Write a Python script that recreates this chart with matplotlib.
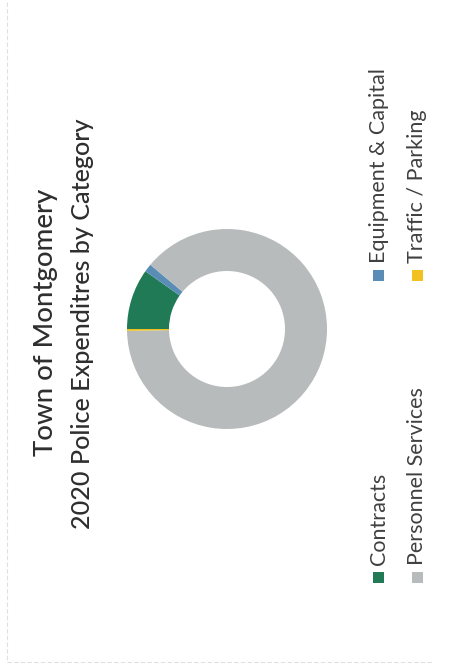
import matplotlib
matplotlib.use("Agg")
import matplotlib.pyplot as plt
from matplotlib.patches import Rectangle
from matplotlib.lines import Line2D

# Chart content
title_lines = ["Town of Montgomery", "2020 Police Expenditres by Category"]
categories = ["Contracts", "Equipment & Capital", "Personnel Services", "Traffic / Parking"]
shares = [9.8, 1.3, 88.6, 0.3]
colors = ["#217a56", "#5a8db6", "#b7bbbc", "#f1c21f"]

W, H = 451, 670
FONT = "Lato"

fig = plt.figure(figsize=(W / 100, H / 100), dpi=100)
fig.patch.set_facecolor("white")
renderer = fig.canvas.get_renderer()


def fx(x):
    return x / W


def fy(y):
    return 1 - y / H


def fitted_size(text, target_px, base=20, weight="normal"):
    t = fig.text(0, 0, text, fontsize=base, family=FONT, weight=weight)
    w = t.get_window_extent(renderer).width
    t.remove()
    return base * target_px / w


# Donut (page is turned a quarter turn, so the chart reads bottom-to-top)
cx, cy, r = 227, 329, 100
ax = fig.add_axes([fx(cx - r), fy(cy + r), 2 * r / W, 2 * r / H])
ax.pie(shares, colors=colors, startangle=180, counterclock=False, radius=1.0,
       wedgeprops=dict(width=0.42, edgecolor="none", linewidth=0))
ax.set_xlim(-1, 1)
ax.set_ylim(-1, 1)
ax.set_aspect("equal")
ax.axis("off")

# Title, two lines, rotated
title_len = [266, 410]
title_base_x = [53, 90]
title_center_y = [322, 324]
for line, length, bx, cyy in zip(title_lines, title_len, title_base_x, title_center_y):
    fig.text(fx(bx), fy(cyy), line, rotation=90, rotation_mode="anchor",
             ha="center", va="baseline", family=FONT, weight="medium",
             fontsize=fitted_size(line, length, weight="medium"), color="#2e2e2e")

# Legend: two rows by two columns, rotated
leg_size = fitted_size("Personnel Services", 178)
row_base_x = [385, 423]
row_square_x = [378, 417]
col_square_y = [577.5, 275]
sq = 11
for i, (name, col) in enumerate(zip(categories, colors)):
    row, c = divmod(i, 2)
    sx, sy = row_square_x[row], col_square_y[c]
    fig.add_artist(Rectangle((fx(sx - sq / 2), fy(sy + sq / 2)), sq / W, sq / H,
                             transform=fig.transFigure, facecolor=col,
                             edgecolor="none"))
    fig.text(fx(row_base_x[row]), fy(sy - sq / 2 - 7), name, rotation=90,
             rotation_mode="anchor", ha="left", va="baseline", family=FONT,
             fontsize=leg_size, color="#404040")

# Faint page frame
frame_kw = dict(transform=fig.transFigure, color="#e0e0e0", lw=0.8,
                linestyle=(0, (4, 2)))
fig.add_artist(Line2D([fx(7), fx(7)], [fy(2), fy(662)], **frame_kw))
fig.add_artist(Line2D([fx(7), fx(432)], [fy(662), fy(662)], **frame_kw))

fig.savefig("out.png", dpi=100, facecolor="white")
